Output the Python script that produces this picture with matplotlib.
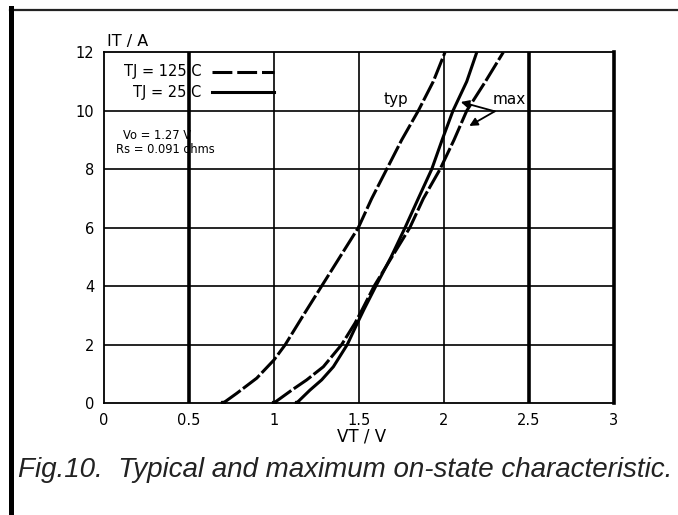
import matplotlib
matplotlib.use("Agg")
import matplotlib.pyplot as plt
from matplotlib.lines import Line2D

# ---- data ----
x_ticks = [0, 0.5, 1, 1.5, 2, 2.5, 3]
x_tick_labels = ["0", "0.5", "1", "1.5", "2", "2.5", "3"]
y_ticks = [0, 2, 4, 6, 8, 10, 12]
y_tick_labels = ["0", "2", "4", "6", "8", "10", "12"]

# typical, Tj = 125 C
typ125_v = [0.702, 0.781, 0.899, 1.0, 1.065, 1.173, 1.281, 1.389, 1.497,
            1.576, 1.664, 1.752, 1.85, 1.938, 2.007]
typ125_i = [0.0, 0.33, 0.85, 1.47, 1.98, 3.0, 4.0, 5.0, 6.0,
            7.0, 8.0, 9.0, 10.0, 11.0, 12.0]
# maximum, Tj = 125 C
max125_v = [1.0, 1.105, 1.193, 1.291, 1.399, 1.477, 1.52, 1.59, 1.695,
            1.80, 1.88, 1.978, 2.06, 2.135, 2.245, 2.35]
max125_i = [0.0, 0.44, 0.79, 1.24, 2.0, 2.73, 3.2, 4.0, 5.0,
            6.0, 7.0, 8.0, 9.0, 10.0, 11.0, 12.0]
# maximum, Tj = 25 C
max25_v = [1.134, 1.212, 1.281, 1.35, 1.432, 1.491, 1.53, 1.60, 1.69,
           1.772, 1.85, 1.929, 1.99, 2.054, 2.135, 2.194]
max25_i = [0.0, 0.44, 0.79, 1.24, 2.0, 2.73, 3.2, 4.0, 5.0,
           6.0, 7.0, 8.0, 9.0, 10.0, 11.0, 12.0]

legend_labels = ["TJ = 125 C", "TJ = 25 C"]
param_texts = ["Vo = 1.27 V", "Rs = 0.091 ohms"]
caption = "Fig.10.  Typical and maximum on-state characteristic."

W, H = 678, 515
fig = plt.figure(figsize=(W / 100, H / 100), dpi=100)
fig.patch.set_facecolor("white")

ax = fig.add_axes([104 / W, 1 - 403 / H, (613.7 - 104) / W, (403 - 52.3) / H])
ax.set_xlim(0, 3)
ax.set_ylim(0, 12)

# grid
thick_x = [0.5, 2.5]
for xv in x_ticks[1:-1]:
    ax.axvline(xv, color="black", lw=2.6 if xv in thick_x else 1.2, zorder=1)
for yv in y_ticks[1:-1]:
    ax.axhline(yv, color="black", lw=1.2, zorder=1)

for s in ["left", "bottom", "top"]:
    ax.spines[s].set_linewidth(1.3)
ax.spines["right"].set_linewidth(2.6)

ax.set_xticks(x_ticks)
ax.set_xticklabels(x_tick_labels)
ax.set_yticks(y_ticks)
ax.set_yticklabels(y_tick_labels)
ax.tick_params(axis="x", length=0, pad=7, labelsize=10.5)
ax.tick_params(axis="y", length=0, pad=7, labelsize=10.5)

dash = (7.0, 1.0)
ax.plot(typ125_v, typ125_i, color="black", lw=2.2, dashes=dash,
        marker="s", markersize=3.5, markevery=[0], zorder=3)
ax.plot(max125_v, max125_i, color="black", lw=2.2, dashes=dash,
        marker="s", markersize=3.5, markevery=[0], zorder=3)
ax.plot(max25_v, max25_i, color="black", lw=2.2,
        marker="s", markersize=3.5, markevery=[0], zorder=3)

# legend (manual)
ax.text(0.575, 11.34, legend_labels[0], ha="right", va="center", fontsize=10.5)
ax.text(0.575, 10.63, legend_labels[1], ha="right", va="center", fontsize=10.5)
ax.plot([0.636, 1.0], [11.34, 11.34], color="black", lw=2.2, dashes=(6.5, 1.6), zorder=3)
ax.plot([0.636, 1.0], [10.63, 10.63], color="black", lw=2.2, zorder=3)

ax.text(0.112, 9.17, param_texts[0], ha="left", va="center", fontsize=8.3)
ax.text(0.071, 8.68, param_texts[1], ha="left", va="center", fontsize=8.3)

ax.text(1.719, 10.37, "typ", ha="center", va="center", fontsize=11)
ax.text(2.387, 10.37, "max", ha="center", va="center", fontsize=11)
for tip in [(2.10, 10.3), (2.15, 9.48)]:
    ax.annotate("", xy=tip, xytext=(2.30, 9.98),
                arrowprops=dict(arrowstyle="-|>", color="black", lw=1.3,
                                mutation_scale=12, shrinkA=0, shrinkB=0))

fig.text(106.7 / W, 1 - 41.7 / H, "IT / A", ha="left", va="center", fontsize=11.5)
fig.text(362 / W, 1 - 436.7 / H, "VT / V", ha="center", va="center", fontsize=12)
fig.text(18 / W, 1 - 470 / H, caption, ha="left", va="center", fontsize=20,
         style="italic", family="Liberation Sans", color="#222222")

# page frame
fig.add_artist(Line2D([10 / W, 1], [1 - 9.5 / H, 1 - 9.5 / H], transform=fig.transFigure,
                      color="#222222", lw=1.6))
fig.add_artist(Line2D([10.5 / W, 10.5 / W], [1 - 8 / H, 0], transform=fig.transFigure,
                      color="black", lw=3.6))

fig.savefig("out.png", dpi=100)
